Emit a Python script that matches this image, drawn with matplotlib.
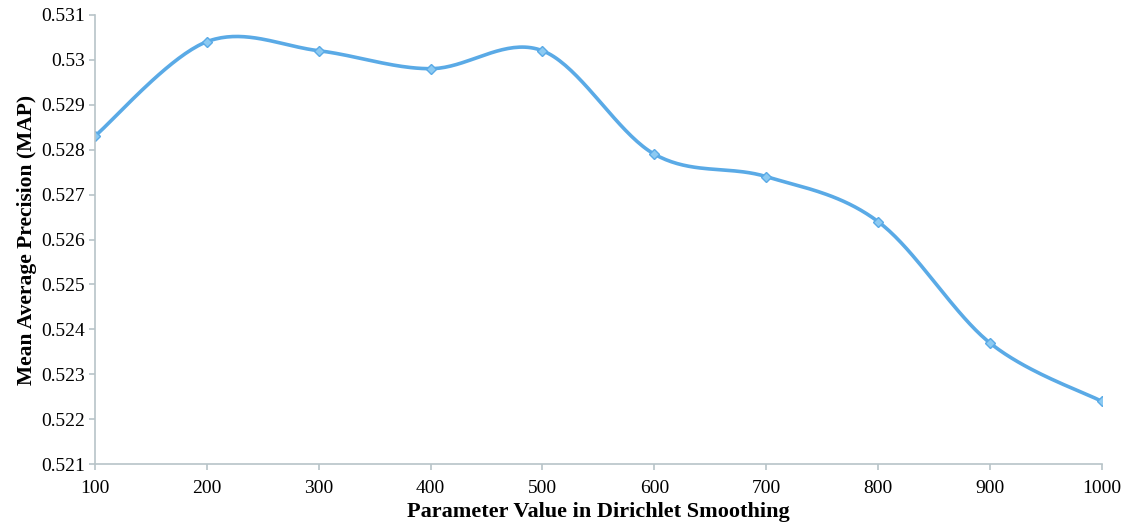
import numpy as np
import matplotlib.pyplot as plt

# Dirichlet smoothing parameter vs MAP
mu = [100, 200, 300, 400, 500, 600, 700, 800, 900, 1000]
map_vals = [0.5283, 0.5304, 0.5302, 0.5298, 0.5302, 0.5279, 0.5274, 0.5264, 0.5237, 0.5224]
y_ticks = [0.521, 0.522, 0.523, 0.524, 0.525, 0.526, 0.527, 0.528, 0.529, 0.53, 0.531]


def smooth(xs, ys, n=40):
    # excel-like smoothed line: cubic bezier with catmull-rom control points
    xs = np.asarray(xs, float)
    ys = np.asarray(ys, float)
    px = np.concatenate([[xs[0]], xs, [xs[-1]]])
    py = np.concatenate([[ys[0]], ys, [ys[-1]]])
    out_x, out_y = [], []
    t = np.linspace(0, 1, n)
    for i in range(1, len(px) - 2):
        x0, x1, x2, x3 = px[i - 1], px[i], px[i + 1], px[i + 2]
        y0, y1, y2, y3 = py[i - 1], py[i], py[i + 1], py[i + 2]
        c1x, c1y = x1 + (x2 - x0) / 6, y1 + (y2 - y0) / 6
        c2x, c2y = x2 - (x3 - x1) / 6, y2 - (y3 - y1) / 6
        bx = (1-t)**3*x1 + 3*(1-t)**2*t*c1x + 3*(1-t)*t**2*c2x + t**3*x2
        by = (1-t)**3*y1 + 3*(1-t)**2*t*c1y + 3*(1-t)*t**2*c2y + t**3*y2
        out_x.extend(bx)
        out_y.extend(by)
    return np.array(out_x), np.array(out_y)


plt.rcParams['font.family'] = ['Liberation Serif', 'DejaVu Serif']

fig = plt.figure(figsize=(11.3, 5.27), dpi=100)
ax = fig.add_axes([0.084, 0.119, 0.891, 0.853])

sx, sy = smooth(mu, map_vals)
ax.plot(sx, sy, color='#5aaae6', lw=2.6, solid_capstyle='round')
ax.plot(mu, map_vals, ls='none', marker='D', ms=5.5, mfc='#8ccaf2', mec='#5aaae6', mew=1)

ax.set_xlim(100, 1000)
ax.set_ylim(0.521, 0.531)
ax.set_xticks(mu)
ax.set_xticklabels([str(m) for m in mu])
ax.set_yticks(y_ticks)
ax.set_yticklabels(['%g' % v for v in y_ticks])

for s in ['top', 'right']:
    ax.spines[s].set_visible(False)
for s in ['left', 'bottom']:
    ax.spines[s].set_color('#b8c4c8')
    ax.spines[s].set_linewidth(1.2)
ax.tick_params(axis='both', colors='#b8c4c8', labelcolor='black', labelsize=14, length=4, width=1.2)
ax.tick_params(axis='x', pad=7)
ax.tick_params(axis='y', pad=3)

ax.set_xlabel('Parameter Value in Dirichlet Smoothing', fontsize=16, fontweight='bold', labelpad=4)
ax.set_ylabel('Mean Average Precision (MAP)', fontsize=15.5, fontweight='bold', labelpad=3)

plt.savefig('out.png', dpi=100)
